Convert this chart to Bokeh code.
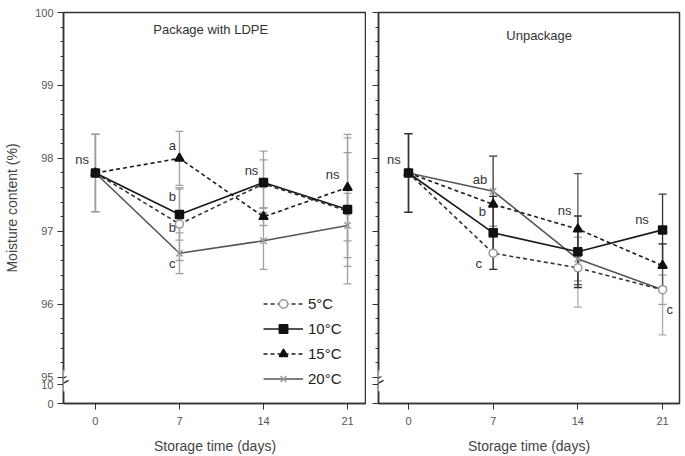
from bokeh.plotting import figure
from bokeh.models import (ColumnDataSource, Whisker, FixedTicker, Label, Legend,
                          LegendItem, Range1d, TeeHead)
from bokeh.layouts import row
from bokeh.embed import file_html
from bokeh.resources import INLINE

# ---------------- data ----------------
days = [0, 7, 14, 21]
series_names = ["5°C", "10°C", "15°C", "20°C"]

ldpe_5 = [97.80, 97.10, 97.65, 97.28]
ldpe_10 = [97.80, 97.23, 97.67, 97.30]
ldpe_15 = [97.80, 98.00, 97.20, 97.60]
ldpe_20 = [97.80, 96.70, 96.87, 97.08]
ldpe_5_sd = [0.53, 0.50, 0.33, 1.00]
ldpe_10_sd = [0.53, 0.35, 0.43, 0.78]
ldpe_15_sd = [0.53, 0.37, 0.12, 0.73]
ldpe_20_sd = [0.53, 0.28, 0.39, 0.44]

unp_5 = [97.80, 96.70, 96.50, 96.20]
unp_10 = [97.80, 96.98, 96.72, 97.02]
unp_15 = [97.80, 97.37, 97.03, 96.53]
unp_20 = [97.80, 97.55, 96.62, 96.20]
unp_5_sd = [0.54, 0.22, 0.54, 0.62]
unp_10_sd = [0.54, 0.50, 0.49, 0.49]
unp_15_sd = [0.54, 0.66, 0.76, 0.30]
unp_20_sd = [0.54, 0.48, 0.30, 0.20]

ldpe_letters = ["ns", "a", "b", "b", "c", "ns", "ns"]
ldpe_letter_x = [-1.1, 6.4, 6.4, 6.4, 6.4, 13.0, 19.75]
ldpe_letter_y = [97.99, 98.17, 97.48, 97.05, 96.56, 97.83, 97.78]

unp_letters = ["ns", "ab", "b", "c", "ns", "ns", "c"]
unp_letter_x = [-1.2, 5.9, 6.1, 5.8, 12.9, 19.3, 21.6]
unp_letter_y = [97.99, 97.71, 97.27, 96.56, 97.29, 97.16, 95.93]

y_tick_values = [0, 10, 95, 96, 97, 98, 99, 100]
x_tick_values = [0, 7, 14, 21]

FONT = "Liberation Sans"

# broken axis: 0..10 compressed below 95
BREAK_LOW = 94.64
BREAK_SCALE = 0.026


def ymap(v):
    return v if v >= 95 else BREAK_LOW + v * BREAK_SCALE


styles = [
    dict(line_color="#333333", line_dash="4 3", marker="circle", m_line="#999999", m_fill="white", size=8, err="#aaaaaa"),
    dict(line_color="#1a1a1a", line_dash="solid", marker="square", m_line="#111111", m_fill="#111111", size=8, err="#333333"),
    dict(line_color="#1a1a1a", line_dash="4 3", marker="triangle", m_line="#111111", m_fill="#111111", size=9, err="#555555"),
    dict(line_color="#555555", line_dash="solid", marker="x", m_line="#999999", m_fill="#999999", size=9, err="#999999"),
]
draw_order = [3, 0, 2, 1]


def make_panel(title, title_x, title_y, series, sds, letters, lx, ly,
               width, x0, x1, min_left, min_right, show_labels, legend, err_override):
    p = figure(width=width, height=456, x_range=Range1d(x0, x1),
               y_range=Range1d(BREAK_LOW, 100.0), output_backend="svg",
               toolbar_location=None, min_border_left=min_left,
               min_border_right=min_right, min_border_top=12,
               min_border_bottom=53)
    p.xgrid.visible = False
    p.ygrid.visible = False
    p.outline_line_color = "#333333"
    p.outline_line_width = 1.5
    p.background_fill_color = "white"
    p.border_fill_color = "white"

    # x axis
    p.xaxis.ticker = FixedTicker(ticks=x_tick_values)
    p.xaxis.axis_label = "Storage time (days)"
    p.xaxis.axis_label_text_font = FONT
    p.xaxis.axis_label_text_font_style = "normal"
    p.xaxis.axis_label_text_font_size = "14px"
    p.xaxis.axis_label_text_color = "#444444"
    p.xaxis.axis_label_standoff = 10
    p.xaxis.major_label_text_font = FONT
    p.xaxis.major_label_text_font_size = "11px"
    p.xaxis.major_label_text_color = "#555555"
    p.xaxis.major_label_standoff = 7
    p.xaxis.major_tick_out = 6
    p.xaxis.major_tick_in = 0
    p.xaxis.minor_tick_out = 0
    p.xaxis.axis_line_color = "#333333"
    p.xaxis.axis_line_width = 1.5
    p.xaxis.major_tick_line_color = "#333333"

    # y axis
    tick_pos = [ymap(v) for v in y_tick_values]
    minor = [95 + 0.2 * i for i in range(26) if (i % 5) != 0]
    p.yaxis.ticker = FixedTicker(ticks=tick_pos, minor_ticks=minor)
    p.yaxis.major_tick_out = 6
    p.yaxis.major_tick_in = 0
    p.yaxis.minor_tick_out = 3
    p.yaxis.minor_tick_in = 0
    p.yaxis.axis_line_color = "#333333"
    p.yaxis.axis_line_width = 1.5
    p.yaxis.major_tick_line_color = "#333333"
    p.yaxis.minor_tick_line_color = "#333333"
    p.yaxis.major_label_text_font = FONT
    p.yaxis.major_label_text_color = "#555555"
    p.yaxis.major_label_text_font_size = "11px"
    if show_labels:
        p.yaxis.major_label_overrides = {ymap(v): str(v) for v in y_tick_values}
        p.yaxis.axis_label = "Moisture content (%)"
        p.yaxis.axis_label_text_font = FONT
        p.yaxis.axis_label_text_font_style = "normal"
        p.yaxis.axis_label_text_font_size = "14px"
        p.yaxis.axis_label_text_color = "#444444"
        p.yaxis.axis_label_standoff = 12
        p.yaxis.major_label_standoff = 4
    else:
        p.yaxis.major_label_overrides = {ymap(v): "" for v in y_tick_values}
        p.yaxis.major_label_standoff = 0

    # axis break mark
    p.add_layout(Label(x=x0, y=94.955, text="=", angle=0.5,
                       text_align="center", text_baseline="middle",
                       text_font=FONT, text_font_size="18px",
                       text_color="#333333",
                       background_fill_color="white",
                       background_fill_alpha=1.0))

    items = [None] * 4
    for i in draw_order:
        name, vals, sd, st = series_names[i], series[i], sds[i], styles[i]
        ec = err_override or st["err"]
        src = ColumnDataSource(dict(x=days, y=vals,
                                    upper=[v + s for v, s in zip(vals, sd)],
                                    lower=[v - s for v, s in zip(vals, sd)]))
        w = Whisker(source=src, base="x", upper="upper", lower="lower",
                    line_color=ec, line_width=1.3,
                    upper_head=TeeHead(size=8, line_color=ec, line_width=1.3),
                    lower_head=TeeHead(size=8, line_color=ec, line_width=1.3))
        p.add_layout(w)
        lr = p.line("x", "y", source=src, line_color=st["line_color"],
                    line_width=1.6, line_dash=st["line_dash"])
        sr = p.scatter("x", "y", source=src, marker=st["marker"],
                       size=st["size"], line_color=st["m_line"],
                       fill_color=st["m_fill"], line_width=1.5)
        items[i] = LegendItem(label=name, renderers=[lr, sr])

    for t, x, y in zip(letters, lx, ly):
        p.add_layout(Label(x=x, y=y, text=t, text_align="center",
                           text_baseline="middle", text_font=FONT,
                           text_font_size="13px", text_color="#333333"))

    p.add_layout(Label(x=title_x, y=title_y, text=title, text_align="center",
                       text_baseline="middle", text_font=FONT,
                       text_font_size="13px", text_color="#333333"))

    if legend:
        lg = Legend(items=items, location=(200, 14), glyph_width=40,
                    glyph_height=21, label_height=21, spacing=4, padding=0,
                    margin=0, label_standoff=5, border_line_color=None,
                    background_fill_alpha=0, label_text_font=FONT,
                    label_text_font_size="15px", label_text_color="#222222")
        p.add_layout(lg, "center")
    return p


left = make_panel("Package with LDPE", 9.6, 99.77,
                  [ldpe_5, ldpe_10, ldpe_15, ldpe_20],
                  [ldpe_5_sd, ldpe_10_sd, ldpe_15_sd, ldpe_20_sd],
                  ldpe_letters, ldpe_letter_x, ldpe_letter_y,
                  366, -2.66, 22.58, 63, 0, True, True, "#a0a0a0")
right = make_panel("Unpackage", 10.8, 99.68,
                   [unp_5, unp_10, unp_15, unp_20],
                   [unp_5_sd, unp_10_sd, unp_15_sd, unp_20_sd],
                   unp_letters, unp_letter_x, unp_letter_y,
                   319, -2.48, 22.4, 12, 6, False, False, None)

layout = row(left, right, spacing=0)
open("out.html", "w").write(file_html(layout, INLINE))
